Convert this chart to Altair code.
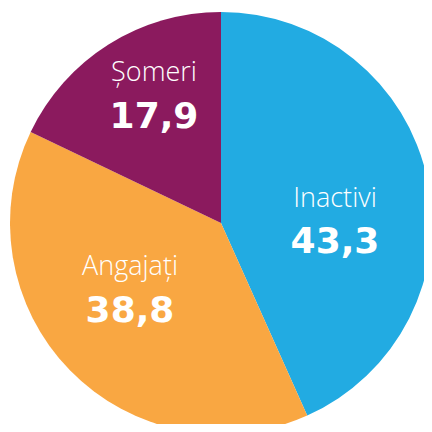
import altair as alt
import pandas as pd

categories = ["Inactivi", "Angajați", "Șomeri"]
values = [43.3, 38.8, 17.9]
colors = ["#22ABE2", "#F9A742", "#8B1A5E"]

df = pd.DataFrame({
    "cat": categories,
    "val": values,
    "order": list(range(len(categories))),
    "lbl": [f"{v:.1f}".replace(".", ",") for v in values],
})

CX, CY, R = 213, 215, 211

pie = alt.Chart(df).mark_arc(radius=R, stroke=None).encode(
    theta=alt.Theta("val:Q", stack=True),
    order=alt.Order("order:Q"),
    color=alt.Color("cat:N", scale=alt.Scale(domain=categories, range=colors), legend=None),
    x=alt.value(CX),
    y=alt.value(CY),
)

label_pos = {
    "Inactivi": (327, 199, 245),
    "Angajați": (122, 267, 314),
    "Șomeri": (146, 73, 120),
}

layers = [pie]
for cat, (lx, ny, vy) in label_pos.items():
    base = alt.Chart(df).transform_filter(alt.datum.cat == cat)
    layers.append(base.mark_text(
        font="Open Sans", fontWeight=300, fontSize=27, color="white",
        align="center", baseline="alphabetic",
    ).encode(text="cat:N", x=alt.value(lx), y=alt.value(ny)))
    layers.append(base.mark_text(
        font="DejaVu Sans", fontWeight="bold", fontSize=36, color="white",
        align="center", baseline="alphabetic",
    ).encode(text="lbl:N", x=alt.value(lx), y=alt.value(vy)))

chart = alt.layer(*layers).properties(
    width=416, height=416, padding=0, autosize="none", background="white"
).configure_view(stroke=None)

chart.save("out.html", embed_options={"renderer": "svg", "actions": False})
